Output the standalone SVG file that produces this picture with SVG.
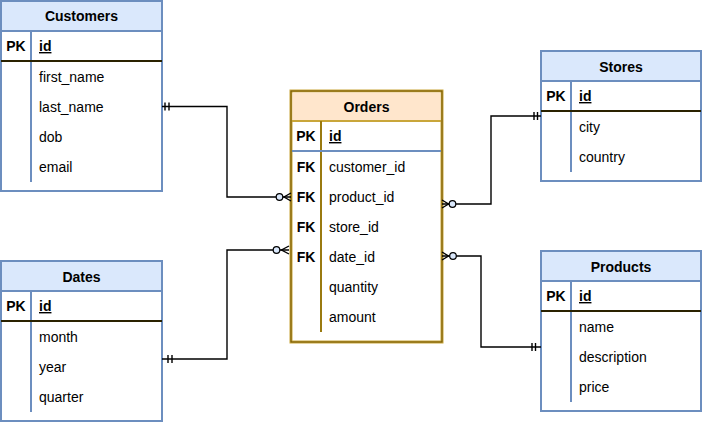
<svg xmlns="http://www.w3.org/2000/svg" width="702" height="422" viewBox="0 0 702 422">
<style>
text{font-family:"Liberation Sans",Arial,Helvetica,sans-serif;font-size:14px;fill:#000}
.h{font-weight:bold;text-anchor:middle}
.k{font-weight:bold;text-anchor:middle}
.pk{font-weight:bold;text-decoration:underline}
.box{fill:#fff;stroke:#6c8ebf;stroke-width:2}
.hdr{fill:#dae8fc;stroke:#6c8ebf;stroke-width:2}
.div{stroke:#6c8ebf;stroke-width:2}
.sep{stroke:#2a2200;stroke-width:2.2}
.obox{fill:#fff;stroke:#c9a63a;stroke-width:3}
.oin{fill:none;stroke:#6e5200;stroke-width:1}
.ohdr{fill:#ffe6cc;stroke:none}
.odiv{stroke:#9a7a10;stroke-width:2}
.osep{stroke:#6c8ebf;stroke-width:2.2}
.c{fill:none;stroke:#000;stroke-width:1.4}
.circ{fill:#dae8fc;stroke:#000;stroke-width:1.2}
</style>

<g id="customers">
<rect class="box" x="1" y="1" width="161" height="190"/>
<rect class="hdr" x="1" y="1" width="161" height="30"/>
<text class="h" x="81.5" y="21">Customers</text>
<line class="div" x1="31" y1="31" x2="31" y2="182"/>
<line class="sep" x1="1" y1="61" x2="162" y2="61"/>
<text class="k" x="16" y="51">PK</text>
<text class="pk" x="39" y="51">id</text>
<text x="39" y="82">first_name</text>
<text x="39" y="112">last_name</text>
<text x="39" y="142">dob</text>
<text x="39" y="172">email</text>
</g>

<g id="dates">
<rect class="box" x="1" y="261" width="161" height="160"/>
<rect class="hdr" x="1" y="261" width="161" height="30"/>
<text class="h" x="81.5" y="282">Dates</text>
<line class="div" x1="31" y1="291" x2="31" y2="412"/>
<line class="sep" x1="1" y1="321" x2="162" y2="321"/>
<text class="k" x="16" y="311">PK</text>
<text class="pk" x="39" y="311">id</text>
<text x="39" y="342">month</text>
<text x="39" y="372">year</text>
<text x="39" y="402">quarter</text>
</g>

<g id="orders">
<rect class="obox" x="291" y="91" width="151" height="251"/>
<rect class="ohdr" x="292.5" y="92.5" width="148" height="28.5"/>
<line stroke="#c9a63a" stroke-width="2" x1="291" y1="121" x2="442" y2="121"/>
<rect class="oin" x="291" y="91" width="151" height="251"/>
<line class="odiv" x1="321" y1="121" x2="321" y2="332"/>
<line class="osep" x1="292" y1="151" x2="441" y2="151"/>
<text class="h" x="366.5" y="112">Orders</text>
<text class="k" x="306" y="141">PK</text>
<text class="pk" x="329" y="141">id</text>
<text class="k" x="306" y="172">FK</text>
<text x="329" y="172">customer_id</text>
<text class="k" x="306" y="202">FK</text>
<text x="329" y="202">product_id</text>
<text class="k" x="306" y="232">FK</text>
<text x="329" y="232">store_id</text>
<text class="k" x="306" y="262">FK</text>
<text x="329" y="262">date_id</text>
<text x="329" y="292">quantity</text>
<text x="329" y="322">amount</text>
</g>

<g id="stores">
<rect class="box" x="541" y="51" width="160" height="130"/>
<rect class="hdr" x="541" y="51" width="160" height="30"/>
<text class="h" x="621" y="72">Stores</text>
<line class="div" x1="571" y1="81" x2="571" y2="172"/>
<line class="sep" x1="541" y1="111" x2="701" y2="111"/>
<text class="k" x="556" y="101">PK</text>
<text class="pk" x="579" y="101">id</text>
<text x="579" y="132">city</text>
<text x="579" y="162">country</text>
</g>

<g id="products">
<rect class="box" x="541" y="251" width="160" height="160"/>
<rect class="hdr" x="541" y="251" width="160" height="30"/>
<text class="h" x="621" y="272">Products</text>
<line class="div" x1="571" y1="281" x2="571" y2="402"/>
<line class="sep" x1="541" y1="311" x2="701" y2="311"/>
<text class="k" x="556" y="301">PK</text>
<text class="pk" x="579" y="301">id</text>
<text x="579" y="332">name</text>
<text x="579" y="362">description</text>
<text x="579" y="392">price</text>
</g>

<g id="connectors">
<!-- Customers -> Orders -->
<path class="c" d="M162 106.5 H227 V197 H291"/>
<path class="c" d="M165 102.5 V110.5 M169 102.5 V110.5"/>
<path class="c" d="M291 193 L284 197 L291 201"/>
<circle class="circ" cx="279.5" cy="197" r="3.3"/>
<!-- Dates -> Orders -->
<path class="c" d="M162 359 H227 V250 H289"/>
<path class="c" d="M168 355 V363 M172 355 V363"/>
<path class="c" d="M289 246 L281.5 250 L289 254"/>
<circle class="circ" cx="276.5" cy="250" r="3.3"/>
<!-- Orders -> Stores -->
<path class="c" d="M442 204 H491 V116 H541"/>
<path class="c" d="M442 200 L448.5 204 L442 208"/>
<circle class="circ" cx="452.5" cy="204" r="3.3"/>
<path class="c" d="M534 112 V120 M537.5 112 V120"/>
<!-- Orders -> Products -->
<path class="c" d="M442 256 H481 V347 H541"/>
<path class="c" d="M442 252 L448.5 256 L442 260"/>
<circle class="circ" cx="453" cy="256" r="3.3"/>
<path class="c" d="M532 343 V351 M535.5 343 V351"/>
</g>
</svg>
